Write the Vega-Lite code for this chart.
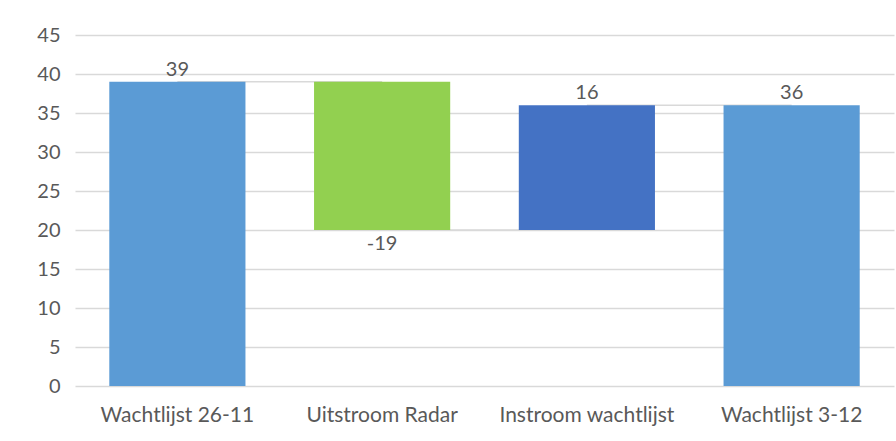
{
  "$schema": "https://vega.github.io/schema/vega-lite/v6.json",
  "autosize": {"type": "none"},
  "width": 819,
  "height": 351,
  "padding": {"left": 75, "top": 35, "right": 2, "bottom": 55},
  "background": "white",
  "config": {
    "view": {"stroke": null},
    "font": "Lato",
    "axisY": {"values": [0, 5, 10, 15, 20, 25, 30, 35, 40, 45], "labelOverlap": false, "grid": true, "gridColor": "#d9d9d9", "gridWidth": 1.5, "ticks": false, "domain": false, "labelPadding": 15, "labelFontSize": 20, "labelColor": "#595959", "labelFont": "Lato", "title": null}
  },
  "datasets": {
    "bars": [
      {"cat": "Wachtlijst 26-11", "start": 0, "end": 39, "label": "39", "type": "total", "lpos": 39, "side": "top"},
      {"cat": "Uitstroom Radar", "start": 39, "end": 20, "label": "-19", "type": "decrease", "lpos": 20, "side": "bottom"},
      {"cat": "Instroom wachtlijst", "start": 20, "end": 36, "label": "16", "type": "increase", "lpos": 36, "side": "top"},
      {"cat": "Wachtlijst 3-12", "start": 0, "end": 36, "label": "36", "type": "total", "lpos": 36, "side": "top"}
    ],
    "links": [
      {"from": "Wachtlijst 26-11", "to": "Uitstroom Radar", "v": 39},
      {"from": "Uitstroom Radar", "to": "Instroom wachtlijst", "v": 20},
      {"from": "Instroom wachtlijst", "to": "Wachtlijst 3-12", "v": 36}
    ]
  },
  "encoding": {
    "x": {
      "field": "cat", "type": "nominal",
      "scale": {"domain": ["Wachtlijst 26-11", "Uitstroom Radar", "Instroom wachtlijst", "Wachtlijst 3-12"], "paddingInner": 0.335, "paddingOuter": 0.1675},
      "axis": {"title": null, "labelAngle": 0, "ticks": false, "domain": false, "labelPadding": 18, "labelFontSize": 21, "labelColor": "#595959", "labelFont": "Lato", "labelOverlap": false, "labelLimit": 300}
    }
  },
  "layer": [
    {
      "data": {"name": "links"},
      "mark": {"type": "rule", "color": "#d9d9d9", "strokeWidth": 1.5},
      "encoding": {
        "x": {"field": "from", "type": "nominal"},
        "x2": {"field": "to"},
        "y": {"field": "v", "type": "quantitative", "scale": {"domain": [0, 45], "nice": false}, "axis": {"values": [0, 5, 10, 15, 20, 25, 30, 35, 40, 45], "tickCount": 10}}
      }
    },
    {
      "data": {"name": "bars"},
      "mark": {"type": "bar"},
      "encoding": {
        "y": {"field": "start", "type": "quantitative", "axis": {"values": [0, 5, 10, 15, 20, 25, 30, 35, 40, 45], "tickCount": 10}},
        "y2": {"field": "end"},
        "color": {
          "field": "type", "type": "nominal",
          "scale": {"domain": ["total", "decrease", "increase"], "range": ["#5B9BD5", "#92D050", "#4472C4"]},
          "legend": null
        }
      }
    },
    {
      "data": {"name": "bars"},
      "transform": [{"filter": "datum.side == 'top'"}],
      "mark": {"type": "text", "baseline": "bottom", "dy": -2, "fontSize": 20, "color": "#595959", "font": "Lato"},
      "encoding": {
        "y": {"field": "lpos", "type": "quantitative", "axis": {"values": [0, 5, 10, 15, 20, 25, 30, 35, 40, 45], "tickCount": 10}},
        "text": {"field": "label"}
      }
    },
    {
      "data": {"name": "bars"},
      "transform": [{"filter": "datum.side == 'bottom'"}],
      "mark": {"type": "text", "baseline": "top", "dy": 4, "fontSize": 20, "color": "#595959", "font": "Lato"},
      "encoding": {
        "y": {"field": "lpos", "type": "quantitative", "axis": {"values": [0, 5, 10, 15, 20, 25, 30, 35, 40, 45], "tickCount": 10}},
        "text": {"field": "label"}
      }
    }
  ]
}
